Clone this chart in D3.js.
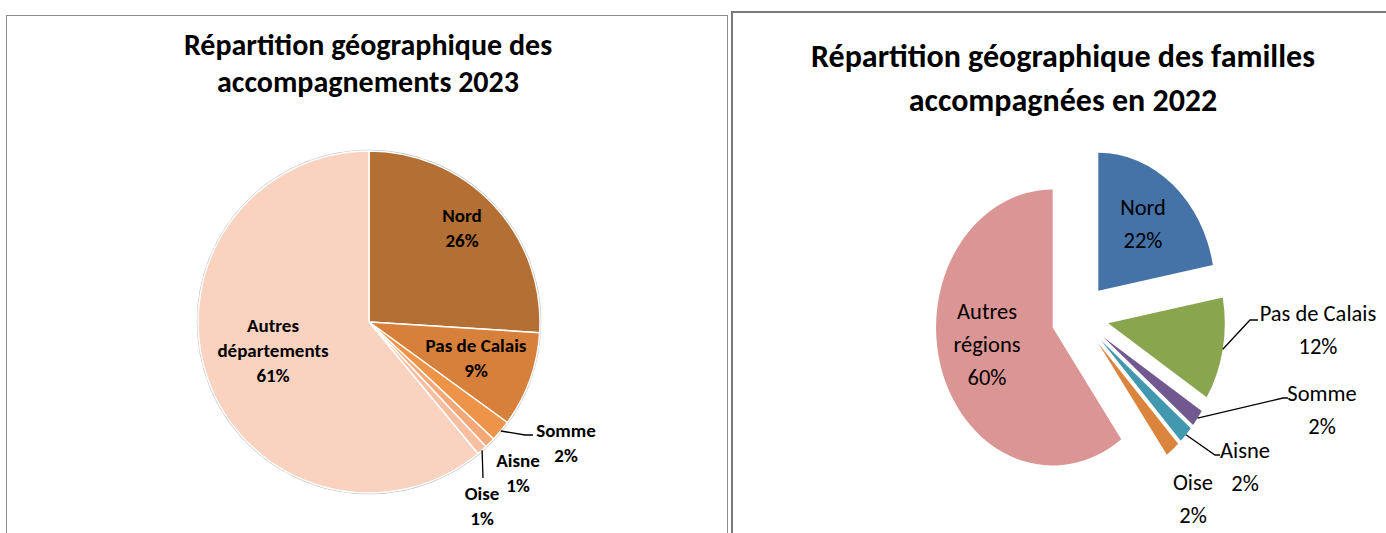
<!DOCTYPE html>
<html>
<head>
<meta charset="utf-8">
<script src="https://cdn.jsdelivr.net/npm/d3@7"></script>
<style>
  body { margin: 0; background: #fff; }
  svg { display: block; }
  text { font-family: Carlito, "Open Sans", sans-serif; fill: #000; }
</style>
</head>
<body>
<svg id="chart" width="1386" height="533"></svg>
<script>
// 2023 chart data
const labels2023 = ["Nord", "Pas de Calais", "Somme", "Aisne", "Oise", "Autres départements"]
const values2023 = [26, 9, 2, 1, 1, 61]
const colors2023 = ["#b46f34", "#d6803b", "#ee9448", "#f4a878", "#f7be9f", "#f9d3c0"]

// 2022 chart data
const labels2022 = ["Nord", "Pas de Calais", "Somme", "Aisne", "Oise", "Autres régions"]
const values2022 = [22, 12, 2, 2, 2, 60]
const colors2022 = ["#4572a7", "#89a54e", "#71588f", "#4198af", "#db843d", "#db9594"]

const svg = d3.select("#chart")

// panel frames
svg.append("rect")
    .attr("x", 6.5).attr("y", 15.5)
    .attr("width", 721).attr("height", 540)
    .attr("fill", "none").attr("stroke", "#8c8c8c").attr("stroke-width", 1)
svg.append("rect")
    .attr("x", 732).attr("y", 12)
    .attr("width", 700).attr("height", 540)
    .attr("fill", "none").attr("stroke", "#7a7a7a").attr("stroke-width", 2)

function title(lines, x, y, size, gap) {
    const t = svg.append("text")
        .attr("text-anchor", "middle")
        .attr("font-weight", "bold")
        .attr("font-size", size)
    lines.forEach((l, i) => {
        t.append("tspan").attr("x", x).attr("y", y + i * gap).text(l)
    })
}

// label block, first line centred on (x, y)
function label(g, lines, x, y, size, gap, weight) {
    const t = g.append("text")
        .attr("text-anchor", "middle")
        .attr("font-size", size)
        .attr("font-weight", weight)
    lines.forEach((l, i) => {
        t.append("tspan").attr("x", x).attr("y", y + i * gap).attr("dy", "0.35em").text(l)
    })
}

const pct = v => v + "%"

// ---------- left pie : 2023 ----------
title(["Répartition géographique des", "accompagnements 2023"], 368, 55, 30, 37)

const r1 = 171
const left = svg.append("g").attr("transform", "translate(369,322)")
const pie = d3.pie().sort(null).value(d => d)
const arcs1 = pie(values2023)
const arc1 = d3.arc().innerRadius(0).outerRadius(r1)

left.append("circle").attr("r", r1 + 0.5).attr("fill", "none").attr("stroke", "#b9b9b9").attr("stroke-width", 1.5)
left.selectAll("path.s")
    .data(arcs1)
    .enter().append("path")
    .attr("class", "s")
    .attr("d", arc1)
    .attr("fill", (d, i) => colors2023[i])
    .attr("stroke", "#fff")
    .attr("stroke-width", 1.5)
    .attr("stroke-linejoin", "round")

// label placement relative to the pie centre (layout only)
const place2023 = [
    { at: [93, -107] },
    { at: [107, 23] },
    { at: [197, 108], elbow: [[156, 113], [164, 113]] },
    { at: [149, 138] },
    { at: [113, 171], elbow: [[114, 156]] },
    { at: [-96, 3] }
]
const outer1 = d3.arc().innerRadius(r1).outerRadius(r1)
arcs1.forEach((d, i) => {
    const p = place2023[i]
    const lines = labels2023[i] === "Autres départements" ? ["Autres", "départements"] : [labels2023[i]]
    label(left, lines.concat(pct(values2023[i])), p.at[0], p.at[1], 19, 25, "bold")
    if (p.elbow) {
        const pts = [outer1.centroid(d)].concat(p.elbow)
        left.append("path")
            .attr("d", d3.line()(pts))
            .attr("fill", "none").attr("stroke", "#000").attr("stroke-width", 1.3)
    }
})

// ---------- right pie : 2022 (exploded, squeezed horizontally) ----------
title(["Répartition géographique des familles", "accompagnées en 2022"], 1063, 67, 32, 44)

const r2 = 138, squeeze = 0.845, explode = 34
const right = svg.append("g").attr("transform", "translate(1080,317)")
const arcs2 = pie(values2022)
const arc2 = d3.arc().innerRadius(0).outerRadius(r2)
const dir = d => {
    const a = (d.startAngle + d.endAngle) / 2
    return [Math.sin(a), -Math.cos(a)]
}
right.append("g")
    .attr("transform", `scale(${squeeze},1)`)
    .selectAll("path")
    .data(arcs2)
    .enter().append("path")
    .attr("d", arc2)
    .attr("transform", d => {
        const [ux, uy] = dir(d)
        return `translate(${ux * explode},${uy * explode})`
    })
    .attr("fill", (d, i) => colors2022[i])

const place2022 = [
    { at: [63, -110] },
    { at: [238, -4], elbow: [[170, 3], [178, 3]] },
    { at: [242, 76], elbow: [[203, 81], [208, 81]] },
    { at: [165, 133], elbow: [[135, 138], [140, 138]] },
    { at: [113, 165] },
    { at: [-93, -6] }
]
arcs2.forEach((d, i) => {
    const p = place2022[i]
    const lines = labels2022[i] === "Autres régions" ? ["Autres", "régions"] : [labels2022[i]]
    label(right, lines.concat(pct(values2022[i])), p.at[0], p.at[1], 22.5, 33, "normal")
    if (p.elbow) {
        const [ux, uy] = dir(d)
        const edge = [(ux * (r2 + explode)) * squeeze, uy * (r2 + explode)]
        right.append("path")
            .attr("d", d3.line()([edge].concat(p.elbow)))
            .attr("fill", "none").attr("stroke", "#000").attr("stroke-width", 1.3)
    }
})
</script>
</body>
</html>
